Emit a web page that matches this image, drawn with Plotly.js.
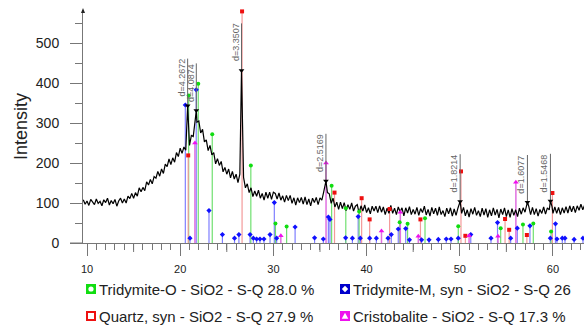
<!DOCTYPE html>
<html>
<head>
<meta charset="utf-8">
<script src="https://cdn.plot.ly/plotly-3.0.1.min.js"></script>
<style>html,body{margin:0;padding:0;background:#fff;}#chart{width:584px;height:327px;}</style>
</head>
<body>
<div id="chart"></div>
<script>
// ---- measured scan (2-theta, counts) ----
const scanAngle = [
9.6,9.8,10.0,10.2,10.4,10.6,10.8,11.0,11.2,11.4,11.6,11.8,12.0,12.2,12.4,12.6,12.8,13.0,13.2,13.4,
13.6,13.8,14.0,14.2,14.4,14.6,14.8,15.0,15.2,15.4,15.6,15.8,16.0,16.2,16.4,16.6,16.8,17.0,17.2,17.4,
17.6,17.8,18.0,18.2,18.4,18.6,18.8,19.0,19.2,19.4,19.6,19.8,20.0,20.2,20.4,20.6,20.8,21.0,21.2,21.4,
21.6,21.73,21.8,22.0,22.2,22.4,22.6,22.8,23.0,23.2,23.4,23.6,23.8,24.0,24.2,24.4,24.6,24.8,25.0,25.2,
25.4,25.6,25.8,26.0,26.2,26.4,26.58,26.8,27.0,27.2,27.4,27.6,27.8,28.0,28.2,28.4,28.6,28.8,29.0,29.2,
29.4,29.6,29.8,30.0,30.2,30.4,30.6,30.8,31.0,31.2,31.4,31.6,31.8,32.0,32.2,32.4,32.6,32.8,33.0,33.2,
33.4,33.6,33.8,34.0,34.2,34.4,34.6,34.8,35.0,35.2,35.4,35.64,35.8,36.0,36.2,36.4,36.6,36.8,37.0,37.2,
37.4,37.6,37.8,38.0,38.2,38.4,38.6,38.8,39.0,39.2,39.4,39.6,39.8,40.0,40.2,40.4,40.6,40.8,41.0,41.2,
41.4,41.6,41.8,42.0,42.2,42.4,42.6,42.8,43.0,43.2,43.4,43.6,43.8,44.0,44.2,44.4,44.6,44.8,45.0,45.2,
45.4,45.6,45.8,46.0,46.2,46.4,46.6,46.8,47.0,47.2,47.4,47.6,47.8,48.0,48.2,48.4,48.6,48.8,49.0,49.2,
49.4,49.6,49.8,50.04,50.2,50.4,50.6,50.8,51.0,51.2,51.4,51.6,51.8,52.0,52.2,52.4,52.6,52.8,53.0,53.2,
53.4,53.6,53.8,54.0,54.2,54.4,54.6,54.8,55.0,55.2,55.4,55.6,55.8,56.0,56.2,56.4,56.6,56.8,57.0,57.26,
57.4,57.6,57.8,58.0,58.2,58.4,58.6,58.8,59.0,59.2,59.4,59.6,59.73,59.9,60.0,60.2,60.4,60.6,60.8,61.0,
61.2,61.4,61.6,61.8,62.0,62.2,62.4,62.6,62.8,63.0,63.2,63.4
];
const scanCounts = [
108,97,105,94,109,102,96,110,99,104,93,108,101,112,95,106,98,109,92,105,
112,100,110,100,117,111,124,112,126,117,138,128,139,131,153,145,159,148,166,162,
179,167,185,174,197,191,210,196,213,202,226,216,237,224,240,232,343,244,269,266,
300,331,302,305,275,284,253,258,231,244,220,226,198,211,194,204,178,189,172,185,
163,179,160,172,151,172,431,164,138,148,126,138,116,130,117,132,112,124,107,127,
112,127,109,127,124,110,125,107,118,102,119,106,119,99,113,95,113,101,114,97,
115,96,110,93,112,101,114,96,113,107,128,155,126,123,99,112,90,102,84,102,
86,101,81,96,84,100,80,92,96,75,93,80,95,76,88,73,92,80,92,76,
93,77,90,71,87,74,94,74,87,71,90,78,88,68,88,75,91,71,84,72,
89,69,86,76,92,70,84,67,89,73,87,69,90,71,81,66,87,73,88,67,
85,69,87,104,74,89,68,83,65,86,72,89,69,81,66,87,70,86,64,83,
68,88,70,84,63,85,71,88,66,83,64,86,69,83,66,87,72,88,77,102,
92,71,89,71,86,67,84,74,90,72,88,83,105,91,74,90,74,89,71,88,
75,91,75,93,78,92,76,93,82,97,83,95
];

// ---- reference phase sticks (2-theta, intensity) ----
const tridOAngle = [20.91,21.94,23.44,27.58,30.22,31.42,36.25,37.77,39.2,43.55,44.4,46.27,49.84,54.39,56.78,57.89,59.8];
const tridOInt   = [369,398,272,194,49,41,143,87,79,52,48,62,42,37,46,49,29];
const quartzAngle = [20.86,26.64,36.56,39.47,40.33,42.47,45.78,50.13,50.6,54.86,55.3,57.2,59.94];
const quartzInt   = [219,579,126,112,59,85,59,179,18,60,33,20,125];
const tridMAngle = [20.55,21.05,21.72,23.09,24.53,25.83,26.3,27.5,27.85,28.2,28.56,28.99,29.64,30.1,30.35,
  32.33,34.42,35.36,35.9,36.07,37.75,38.48,39.1,39.33,40.33,41.05,42.3,42.65,43.4,44.2,44.6,45.9,46.7,47.7,
  48.55,49.06,49.84,51.18,53.35,54.05,55.46,56.17,57.53,59.72,60.27,60.43,61.0,61.29,62.27,63.22];
const tridMInt   = [345,12,383,81,21,12,21,21,12,10,10,10,21,101,12,
  40,13,10,65,59,13,12,66,12,12,12,12,21,35,36,8,8,8,9,
  10,10,12,21,12,51,12,37,43,12,48,10,12,12,9,12];
const cristAngle = [21.58,30.8,35.65,41.6,43.62,45.55,51.0,54.1,56.02];
const cristInt   = [250,18,200,30,77,17,18,17,152];

// ---- labelled peaks ----
const peakLabels = ['d=4.2672','d=4.0874','d=3.3507','d=2.5169','d=1.8214','d=1.6077','d=1.5468'];
const peakAngle  = [20.80,21.73,26.58,35.64,50.04,57.26,59.73];
const peakHeight = [343,331,431,155,104,102,105];

// ---- legend ----
const legendLabels = [
  'Tridymite-O - SiO2 - S-Q 28.0 %',
  'Tridymite-M, syn - SiO2 - S-Q 26',
  'Quartz, syn - SiO2 - S-Q 27.9 %',
  'Cristobalite - SiO2 - S-Q 17.3 %'
];

const FONT = 'Liberation Sans, Arial, sans-serif';
const XR = [9.571, 63.33];
const YR = [0, 582.5];
const ML = 83, MT = 10, PW = 501, PH = 233;
const fx = px => (px - ML) / PW;
const fy = py => (MT + PH - py) / PH;
const ax = a => (a - XR[0]) / (XR[1] - XR[0]);

function stems(a, h) {
  const x = [], y = [];
  a.forEach((v, i) => { x.push(v, v, null); y.push(0, h[i], null); });
  return {x, y};
}
function stemTrace(a, h, color, w) {
  const s = stems(a, h);
  return {type: 'scatter', mode: 'lines', x: s.x, y: s.y, line: {color: color, width: w || 1}, hoverinfo: 'skip', showlegend: false};
}
function topTrace(a, h, color, symbol, size) {
  return {type: 'scatter', mode: 'markers', x: a, y: h, marker: {color: color, symbol: symbol, size: size}, cliponaxis: false, showlegend: false};
}

const labelLine = {x: [], y: []};
peakAngle.forEach((a, i) => { labelLine.x.push(a, a, null); labelLine.y.push(peakHeight[i], peakHeight[i] + 118, null); });

const traces = [
  stemTrace(tridMAngle, tridMInt, '#7f7fff', 1.2),
  stemTrace(tridOAngle, tridOInt, '#70e070', 1.2),
  stemTrace(quartzAngle, quartzInt, '#f49a9a', 1.2),
  stemTrace(cristAngle, cristInt, '#e070e0', 1.5),
  {type: 'scatter', mode: 'lines', x: scanAngle, y: scanCounts, line: {color: '#000', width: 1.2}, showlegend: false},
  topTrace(tridMAngle, tridMInt, '#1010ff', 'diamond', 4),
  topTrace(tridOAngle, tridOInt, '#10dd10', 'circle', 4),
  topTrace(quartzAngle, quartzInt, '#ee1010', 'square', 4),
  topTrace(cristAngle, cristInt, '#ee10ee', 'triangle-up', 5),
  {type: 'scatter', mode: 'lines', x: labelLine.x, y: labelLine.y, line: {color: '#666', width: 1}, showlegend: false, hoverinfo: 'skip'},
  topTrace(peakAngle, peakHeight, '#000', 'triangle-down', 5)
];

const annotations = peakLabels.map((t, i) => ({
  text: t, x: peakAngle[i], y: peakHeight[i] + 20, xref: 'x', yref: 'y',
  textangle: -90, xanchor: 'right', yanchor: 'bottom', showarrow: false,
  xshift: 0, borderpad: 0, font: {family: FONT, size: 9, color: '#666'}
}));

// legend entries (two columns x two rows)
const legPos = [[86, 289], [340, 289], [86, 316], [340, 316]];
const legColor = ['#11dd11', '#0000cc', '#ee1111', '#ee11ee'];
const shapes = [];
legendLabels.forEach((t, i) => {
  const [bx, cy] = legPos[i];
  annotations.push({text: t, x: fx(bx + 12), y: fy(cy), xref: 'paper', yref: 'paper', xanchor: 'left', yanchor: 'middle',
    showarrow: false, borderpad: 0, font: {family: FONT, size: 15, color: '#222'}});
  shapes.push({type: 'rect', xref: 'paper', yref: 'paper', x0: fx(bx), x1: fx(bx + 10), y0: fy(cy + 5), y1: fy(cy - 5),
    fillcolor: legColor[i], line: {width: 0}});
  const cx = bx + 5;
  if (i === 0) shapes.push({type: 'circle', xref: 'paper', yref: 'paper', x0: fx(cx - 2.6), x1: fx(cx + 2.6), y0: fy(cy + 2.6), y1: fy(cy - 2.6), fillcolor: '#fff', line: {width: 0}});
  if (i === 2) shapes.push({type: 'rect', xref: 'paper', yref: 'paper', x0: fx(cx - 3), x1: fx(cx + 3), y0: fy(cy + 3), y1: fy(cy - 3), fillcolor: '#fff', line: {width: 0}});
  if (i === 1) shapes.push({type: 'path', xref: 'paper', yref: 'paper', path: `M${fx(cx)},${fy(cy-3.2)} L${fx(cx+3.2)},${fy(cy)} L${fx(cx)},${fy(cy+3.2)} L${fx(cx-3.2)},${fy(cy)} Z`, fillcolor: '#fff', line: {width: 0}});
  if (i === 3) shapes.push({type: 'path', xref: 'paper', yref: 'paper', path: `M${fx(cx)},${fy(cy-3.2)} L${fx(cx+3.3)},${fy(cy+2.8)} L${fx(cx-3.3)},${fy(cy+2.8)} Z`, fillcolor: '#fff', line: {width: 0}});
});

// x axis line extension left of the y axis, y-axis arrow head, mid (5 deg) ticks
shapes.push({type: 'line', xref: 'paper', yref: 'paper', x0: fx(70), x1: fx(83), y0: 0, y1: 0, line: {color: '#777', width: 1}});
shapes.push({type: 'path', xref: 'paper', yref: 'paper', path: `M${fx(81)},${fy(13)} L${fx(85)},${fy(13)} L${fx(83)},${fy(8)} Z`, fillcolor: '#222', line: {width: 0}});
[15, 25, 35, 45, 55].forEach(v => shapes.push({type: 'line', xref: 'paper', yref: 'paper', x0: ax(v), x1: ax(v), y0: 0, y1: -9 / PH, line: {color: '#777', width: 1}}));

const layout = {
  width: 584, height: 327,
  margin: {l: ML, r: 0, t: MT, b: 327 - MT - PH},
  paper_bgcolor: '#fff', plot_bgcolor: '#fff',
  showlegend: false,
  font: {family: FONT, color: '#222'},
  xaxis: {
    range: XR, showline: true, linecolor: '#777', linewidth: 1, zeroline: false, showgrid: false,
    ticks: 'outside', ticklen: 12, tickcolor: '#777', tick0: 10, dtick: 10,
    tickfont: {family: FONT, size: 11, color: '#222'}, ticklabelstandoff: 4,
    minor: {dtick: 1, tick0: 10, ticks: 'outside', ticklen: 6, tickcolor: '#777', showgrid: false}
  },
  yaxis: {
    range: YR, showline: true, linecolor: '#777', linewidth: 1, zeroline: false, showgrid: false,
    ticks: 'outside', ticklen: 12, tickcolor: '#777', tick0: 0, dtick: 100,
    tickfont: {family: FONT, size: 14, color: '#222'}, ticklabelstandoff: 8,
    minor: {dtick: 50, tick0: 0, ticks: 'outside', ticklen: 7, tickcolor: '#777', showgrid: false},
    title: {text: 'Intensity', font: {family: FONT, size: 18, color: '#222'}, standoff: 3}
  },
  annotations: annotations,
  shapes: shapes
};

Plotly.newPlot('chart', traces, layout, {staticPlot: true, displayModeBar: false});
</script>
</body>
</html>
